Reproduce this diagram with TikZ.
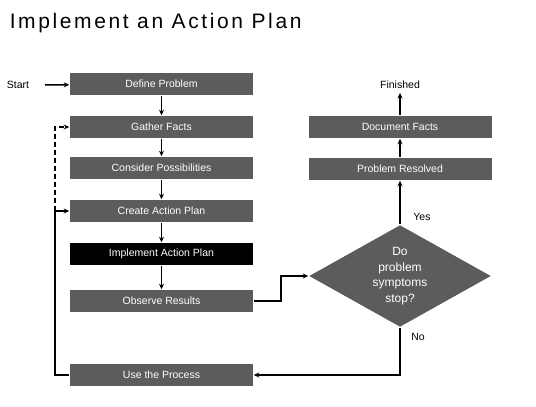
\documentclass[tikz,border=0pt]{standalone}
\usepackage{fontspec}
\setmainfont{Liberation Sans}
\newfontfamily\titlefont[LetterSpace=12.5]{Liberation Sans}
\usetikzlibrary{shapes.geometric,arrows.meta}

\definecolor{boxgray}{HTML}{5C5C5C}
\tikzset{
  stepbox/.style={shape=rectangle, fill=boxgray, text=white, minimum width=183pt,
    minimum height=22pt, inner sep=0pt, font=\fontsize{10.5}{12}\selectfont},
  activebox/.style={stepbox, fill=black},
  decision/.style={shape=diamond, fill=boxgray, text=white, minimum width=182pt,
    minimum height=102pt, shape aspect=1.78, inner sep=0pt, align=center,
    font=\fontsize{12}{15.5}\selectfont},
  lbl/.style={font=\fontsize{10.5}{12}\selectfont},
}

\begin{document}
\begin{tikzpicture}[x=1pt, y=-1pt, line width=1.5pt, >={Stealth[length=5.5pt,width=5pt]}]
  \useasboundingbox (0,0) rectangle (536,407);

  \node[anchor=base west, inner sep=0pt, font=\titlefont\fontsize{21}{24}\selectfont] (title) at (9,28) {Implement an Action Plan};

  % left column
  \node[lbl] (start) at (18,85) {Start};
  \coordinate (startpt) at (45,85);
  \node[stepbox] (define) at (161.5,84) {Define Problem};
  \node[stepbox] (gather) at (161.5,127) {Gather Facts};
  \node[stepbox] (consider) at (161.5,168) {Consider Possibilities};
  \node[stepbox] (create) at (161.5,211) {Create Action Plan};
  \node[activebox] (implement) at (161.5,254) {Implement Action Plan};
  \node[stepbox] (observe) at (161.5,301) {Observe Results};
  \node[stepbox] (use) at (161.5,375) {Use the Process};

  % right column
  \node[decision] (decide) at (400,276) {Do\\problem\\symptoms\\stop?};
  \node[stepbox] (resolved) at (400,169) {Problem Resolved};
  \node[stepbox] (document) at (400,127) {Document Facts};
  \node[lbl] (finished) at (400,85) {Finished};
  \node[lbl] (yes) at (422,217) {Yes};
  \node[lbl] (no) at (418,337) {No};

  \coordinate (back) at (55,211);

  \draw[->] (startpt) to (define);
  \draw[->] (define) to (gather);
  \draw[->] (gather) to (consider);
  \draw[->] (consider) to (create);
  \draw[->] (create) to (implement);
  \draw[->] (implement) to (observe);
  \draw[->] (observe.east) -- ++(27,0) |- (decide.west);
  \draw[->] (decide.north) to (resolved.south);
  \draw[->] (resolved) to (document);
  \draw[->] (document) to (finished);
  \draw[->] (decide.south) |- (use.east);
  \draw[->] (use.west) -| (back) to (create.west);
  \draw[->, dash pattern=on 5pt off 3pt] (back) |- (gather.west);
\end{tikzpicture}
\end{document}
